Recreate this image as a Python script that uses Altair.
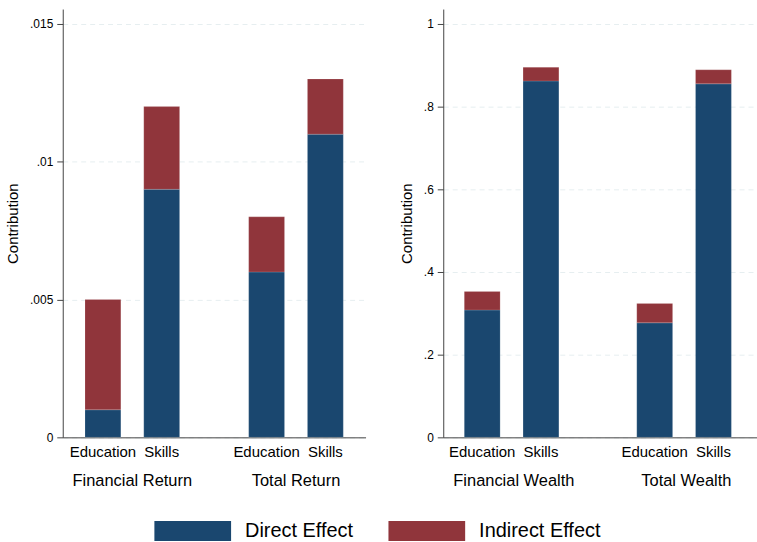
import altair as alt
import pandas as pd

items = ["Education", "Skills", "Education", "Skills"]
effects = ["Direct Effect", "Indirect Effect"]

left_groups = ["Financial Return", "Financial Return", "Total Return", "Total Return"]
left_direct = [0.001, 0.009, 0.006, 0.011]
left_indirect = [0.004, 0.003, 0.002, 0.002]
left_ticks = [0, 0.005, 0.01, 0.015]

right_groups = ["Financial Wealth", "Financial Wealth", "Total Wealth", "Total Wealth"]
right_direct = [0.308, 0.862, 0.277, 0.855]
right_indirect = [0.045, 0.033, 0.047, 0.034]
right_ticks = [0, 0.2, 0.4, 0.6, 0.8, 1]

FONT = "Liberation Sans"
NAVY = "#1a476f"
MAROON = "#90353b"


def long_df(groups, direct, indirect):
    rows = []
    for g, it, d, ind in zip(groups, items, direct, indirect):
        rows.append({"group": g, "item": it, "effect": effects[0], "value": d, "ord": 0})
        rows.append({"group": g, "item": it, "effect": effects[1], "value": ind, "ord": 1})
    return pd.DataFrame(rows)


def panel(groups, direct, indirect, ticks, ymax, width, pin, pout):
    df = long_df(groups, direct, indirect)
    gsort = list(dict.fromkeys(groups))
    x = alt.X("group:N", sort=gsort,
              scale=alt.Scale(paddingInner=pin, paddingOuter=pout),
              axis=alt.Axis(title=None, ticks=False, tickSize=0, labelAngle=0,
                            labelPadding=35, labelFontSize=16.5, labelFont=FONT,
                            labelColor="#000", domainColor="#444", grid=False))
    xo = alt.XOffset("item:N", sort=["Education", "Skills"],
                     scale=alt.Scale(paddingInner=0.39, paddingOuter=0))
    bars = alt.Chart(df).mark_bar(stroke="#ffffff", strokeOpacity=0.25, strokeWidth=0.6).encode(
        x=x,
        xOffset=xo,
        y=alt.Y("value:Q", stack="zero",
                scale=alt.Scale(domain=[0, ymax], nice=False, zero=True),
                axis=alt.Axis(values=ticks,
                              labelExpr="replace(format(datum.value, '~g'), '0.', '.')",
                              title="Contribution", titleFontSize=15, titleFontWeight="normal",
                              titleFont=FONT, titleColor="#000", titlePadding=9,
                              labelFontSize=12, labelFont=FONT, labelColor="#000",
                              tickSize=6, labelPadding=4, tickColor="#444", domainColor="#444",
                              grid=True, gridColor="#e6eef0", gridDash=[5, 4])),
        color=alt.Color("effect:N",
                        scale=alt.Scale(domain=effects, range=[NAVY, MAROON]),
                        legend=alt.Legend(orient="none", legendX=120.5, legendY=514,
                                          direction="horizontal", title=None,
                                          symbolType="M-3.85,-1H3.85V1H-3.85Z", symbolSize=400,
                                          symbolStrokeWidth=0, labelFontSize=20, labelFont=FONT,
                                          labelColor="#000", labelOffset=42.5, columnPadding=34)),
        order=alt.Order("ord:Q"),
    )
    labels = alt.Chart(df[df["ord"] == 0]).mark_text(
        font=FONT, fontSize=15, baseline="middle", color="#000"
    ).encode(
        x=alt.X("group:N", sort=gsort),
        xOffset=alt.XOffset("item:N", sort=["Education", "Skills"]),
        y=alt.value(445),
        text="item:N",
    )
    return alt.layer(bars, labels).properties(width=width, height=430)


left = panel(left_groups, left_direct, left_indirect, left_ticks, 0.01554, 304, 0.422, 0.136)
right = panel(right_groups, right_direct, right_indirect, right_ticks, 1.036, 315, 0.425, 0.122)

chart = alt.hconcat(left, right, spacing=33).resolve_scale(
    color="shared"
).resolve_legend(color="shared").properties(
    padding={"left": 5, "top": 8, "right": 0, "bottom": 0},
    background="white",
).configure_view(stroke=None)

chart.save("out.html", embed_options={"renderer": "svg", "actions": False})
